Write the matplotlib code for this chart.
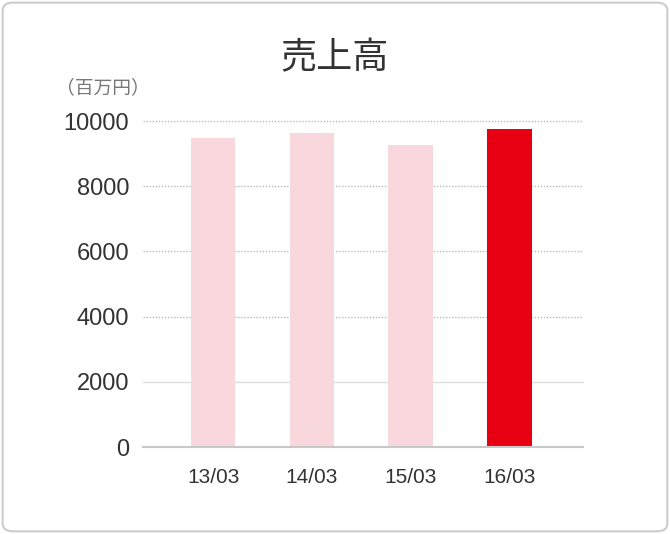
import matplotlib.pyplot as plt
from matplotlib.patches import FancyBboxPatch

# data
periods = ['13/03', '14/03', '15/03', '16/03']
sales = [9480, 9630, 9270, 9760]
bar_colors = ['#f8d8dd', '#f8d8dd', '#f8d8dd', '#e60012']
yticks = [0, 2000, 4000, 6000, 8000, 10000]

latin = ['Liberation Sans', 'Noto Sans CJK JP', 'DejaVu Sans']
cjk = ['Noto Sans CJK JP', 'DejaVu Sans']

fig = plt.figure(figsize=(6.7, 5.34), dpi=100)

# rounded frame around the whole card
frame = FancyBboxPatch((0.004, 0.005), 0.992, 0.99,
                       boxstyle='round,pad=0,rounding_size=0.015',
                       transform=fig.transFigure, facecolor='white',
                       edgecolor='#cccccc', linewidth=1.5, zorder=-10)
fig.patches.append(frame)

ax = fig.add_axes([0.2134, 0.1629, 0.6567, 0.6105])
ax.set_facecolor('none')
ax.set_zorder(5)

x = range(len(periods))
ax.bar(x, sales, width=0.45, color=bar_colors, zorder=3)

ax.set_xlim(-0.71, 3.745)
ax.set_ylim(0, 10000)

# grid lines: dotted, except the lower one and the base line
for t in yticks:
    if t == 0:
        ax.axhline(t, color='#c8c8c8', lw=1.5, zorder=4, clip_on=False)
    elif t == 2000:
        ax.axhline(t, color='#dddddd', lw=1, zorder=2, clip_on=False)
    else:
        ax.axhline(t, color='#bbbbbb', lw=1, ls=(0, (1, 1.2)), zorder=2, clip_on=False)

for s in ax.spines.values():
    s.set_visible(False)

ax.set_yticks(yticks)
ax.set_yticklabels([str(t) for t in yticks], fontsize=17, color='#333333', family=latin)
ax.set_xticks(list(x))
ax.set_xticklabels(periods, fontsize=15, color='#333333', family=latin)
ax.tick_params(axis='y', length=0, pad=10)
ax.tick_params(axis='x', length=0, pad=15)

fig.text(0.5, 0.89, '売上高', ha='center', va='center', fontsize=26,
         color='#333333', family=cjk)
fig.text(0.084, 0.835, '（百万円）', ha='left', va='center', fontsize=13.5,
         color='#777777', family=cjk)

fig.savefig('out.png', dpi=100)
